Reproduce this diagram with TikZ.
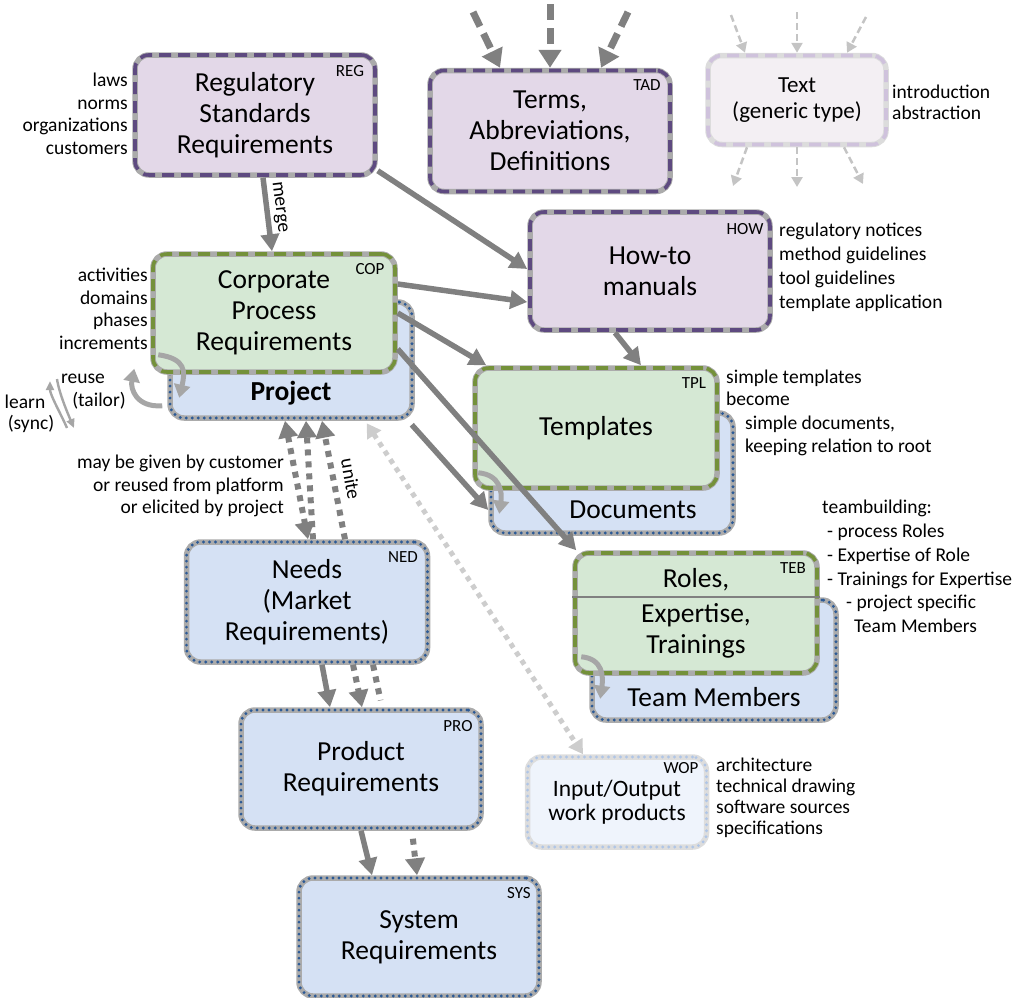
\documentclass[tikz,border=0pt]{standalone}
\usepackage{fontspec}
\setmainfont{Carlito}
\usetikzlibrary{arrows.meta,calc}

\definecolor{purpfill}{HTML}{E3D8E8}
\definecolor{purpline}{HTML}{5E4A80}
\definecolor{greenfill}{HTML}{D5E8D4}
\definecolor{greenline}{HTML}{74913A}
\definecolor{bluefill}{HTML}{D5E1F4}
\definecolor{blueline}{HTML}{2C5A96}
\definecolor{rimgray}{HTML}{ABABAB}
\definecolor{arrowgray}{HTML}{808080}
\definecolor{softgray}{HTML}{A6A6A6}
\definecolor{palegray}{HTML}{C4C4C4}
\definecolor{txtfill}{HTML}{F3EFF3}
\definecolor{txtrim}{HTML}{DCDCDC}
\definecolor{txtline}{HTML}{CFC2DC}
\definecolor{wopfill}{HTML}{EFF4FC}
\definecolor{woprim}{HTML}{DDDDDD}
\definecolor{wopline}{HTML}{AFC5E6}

\tikzset{
  box/.style={rectangle, rounded corners=14pt, draw=rimgray, line width=5.5pt,
    inner sep=0pt, align=center, font=\fontsize{27.5}{31}\selectfont},
  dashrim/.style={postaction={draw=#1, line width=3.6pt, dash pattern=on 12pt off 7pt, line cap=butt}},
  dotrim/.style={postaction={draw=#1, line width=3.2pt, dash pattern=on 0pt off 6pt, line cap=round}},
  purplebox/.style={box, fill=purpfill, dashrim=purpline},
  greenbox/.style={box, fill=greenfill, dashrim=greenline},
  bluebox/.style={box, fill=bluefill, dotrim=blueline},
  genericbox/.style={box, fill=txtfill, draw=txtrim, dashrim=txtline, font=\fontsize{23}{25.5}\selectfont},
  wopbox/.style={box, fill=wopfill, draw=woprim, dotrim=wopline, font=\fontsize{23.5}{24.5}\selectfont},
  tag/.style={font=\fontsize{17}{19}\selectfont, inner sep=0pt},
  boxtext/.style={font=\fontsize{27.5}{31}\selectfont, inner sep=0pt},
  note/.style={font=\fontsize{19.5}{22.5}\selectfont, inner sep=0pt},
  conn/.style={draw=arrowgray, line width=5.5pt, -{Triangle[length=17pt,width=18pt]}},
  bigdash/.style={draw=arrowgray, line width=7pt, dash pattern=on 16pt off 8pt,
    -{Triangle[length=18pt,width=22pt]}},
  lightdash/.style={draw=palegray, line width=2.5pt, dash pattern=on 7pt off 4pt,
    -{Triangle[length=10pt,width=11pt]}},
  dotconn/.style={draw=arrowgray, line width=6pt, dash pattern=on 6pt off 6pt,
    -{Triangle[length=17pt,width=19pt]}},
  wopconn/.style={draw=palegray!85, line width=5pt, dash pattern=on 5pt off 5pt,
    {Triangle[length=14pt,width=16pt]}-{Triangle[length=14pt,width=16pt]}},
  cyclearc/.style={draw=softgray, line width=5pt, -{Triangle[length=13pt,width=16pt]}},
  thinarc/.style={draw=softgray, line width=2.4pt, -{Triangle[length=9pt,width=8pt]}},
  divider/.style={draw=arrowgray, line width=1.6pt}
}

\begin{document}
\begin{tikzpicture}[x=1pt, y=-1pt]
\useasboundingbox (0,0) rectangle (1030,997);

% ---------- document boxes ----------
\node[purplebox, minimum width=240pt, minimum height=120pt] (reg) at (255,115)
  {Regulatory\\Standards\\Requirements};
\node[tag] (regtag) at (350,71) {REG};

\node[purplebox, minimum width=240pt, minimum height=121pt] (tad) at (550,131)
  {Terms,\\Abbreviations,\\Definitions};
\node[tag] (tadtag) at (647,85) {TAD};

\node[genericbox, minimum width=178pt, minimum height=89pt] (txt) at (797,100)
  {Text\\(generic type)};

\node[purplebox, minimum width=240pt, minimum height=118pt] (how) at (650,271)
  {How-to\\manuals};
\node[tag] (howtag) at (745,229) {HOW};

\node[bluebox, minimum width=242pt, minimum height=116pt] (prj) at (291,360) {};
\node[boxtext, font=\fontsize{27.5}{31}\selectfont\bfseries] (prjtext) at (291,393) {Project};
\node[greenbox, minimum width=242pt, minimum height=118pt] (cop) at (274,313)
  {Corporate\\Process\\Requirements};
\node[tag] (coptag) at (370,269) {COP};

\node[bluebox, minimum width=242pt, minimum height=120pt] (doc) at (612,473) {};
\node[boxtext] (doctext) at (633,510) {Documents};
\node[greenbox, minimum width=242pt, minimum height=120pt] (tpl) at (596,428) {Templates};
\node[tag] (tpltag) at (694,383) {TPL};

\node[bluebox, minimum width=244pt, minimum height=120pt] (tmb) at (714,660) {};
\node[boxtext] (tmbtext) at (714,697) {Team Members};
\node[greenbox, minimum width=242pt, minimum height=120pt] (teb) at (696,613)
  {Roles,\\[4pt]Expertise,\\Trainings};
\draw[divider] ([yshift=16pt]teb.west) -- ([yshift=16pt]teb.east);
\node[tag] (tebtag) at (793,568) {TEB};

\node[bluebox, minimum width=241pt, minimum height=120pt] (ned) at (307,602)
  {Needs\\(Market\\Requirements)};
\node[tag] (nedtag) at (403,557) {NED};

\node[bluebox, minimum width=240pt, minimum height=118pt] (pro) at (361,769)
  {Product\\Requirements};
\node[tag] (protag) at (458,726) {PRO};

\node[bluebox, minimum width=240pt, minimum height=118pt] (sys) at (419,937)
  {System\\Requirements};
\node[tag] (systag) at (519,893) {SYS};

\node[wopbox, minimum width=179pt, minimum height=90pt] (wop) at (617,802)
  {Input/Output\\work products};
\node[tag] (woptag) at (681,768) {WOP};

% ---------- side notes ----------
\node[note, align=right, anchor=east] (regnotes) at (128,114)
  {laws\\norms\\organizations\\customers};
\node[note, align=right, anchor=east] (copnotes) at (148,309)
  {activities\\domains\\phases\\increments};
\node[note, align=left, anchor=west, font=\fontsize{19.5}{24}\selectfont] (hownotes) at (779,267)
  {regulatory notices\\method guidelines\\tool guidelines\\template application};
\node[note, align=left, anchor=west, font=\fontsize{19.5}{21}\selectfont] (txtnotes) at (892,102)
  {introduction\\abstraction};
\node[note, align=left, anchor=west] (tplnotesA) at (726,388)
  {simple templates\\become};
\node[note, align=left, anchor=west] (tplnotesB) at (745,436)
  {simple documents,\\keeping relation to root};
\node[note, align=left, anchor=north west, font=\fontsize{19.5}{23.8}\selectfont] (tebnotes) at (822,500)
  {teambuilding:\\
   \hspace*{5pt}- process Roles\\
   \hspace*{5pt}- Expertise of Role\\
   \hspace*{5pt}- Trainings for Expertise\\
   \hspace*{24pt}- project specific\\
   \hspace*{32pt}Team Members};
\node[note, align=left, anchor=west, font=\fontsize{19.5}{21}\selectfont] (wopnotes) at (716,798)
  {architecture\\technical drawing\\software sources\\specifications};
\node[note, align=right, anchor=east] (givennote) at (284,486)
  {may be given by customer\\or reused from platform\\or elicited by project};
\node[note] (reusetxt) at (83,379) {reuse};
\node[note] (tailortxt) at (99,401) {(tailor)};
\node[note] (learntxt) at (25,402) {learn};
\node[note] (synctxt) at (31,424) {(sync)};

% ---------- free ends ----------
\coordinate (tadsrcA) at (473,12);
\coordinate (tadsrcB) at (550,4);
\coordinate (tadsrcC) at (628,12);
\coordinate (txtsrcA) at (731,15);
\coordinate (txtsrcB) at (797,12);
\coordinate (txtsrcC) at (866,17);
\coordinate (txtdstA) at (733,186);
\coordinate (txtdstB) at (797,187);
\coordinate (txtdstC) at (863,184);
\coordinate (learnA) at (67,428);
\coordinate (learnB) at (50,381);
\coordinate (reuseA) at (57,379);
\coordinate (reuseB) at (74,428);

% ---------- connectors ----------
\draw[bigdash] (tadsrcA) -- ([xshift=-50pt]tad.north);
\draw[bigdash] (tadsrcB) -- (tad.north);
\draw[bigdash] (tadsrcC) -- ([xshift=51pt]tad.north);

\draw[lightdash] (txtsrcA) -- ([xshift=-52pt]txt.north);
\draw[lightdash] (txtsrcB) -- (txt.north);
\draw[lightdash] (txtsrcC) -- ([xshift=50pt]txt.north);
\draw[lightdash] ([xshift=-50pt]txt.south) -- (txtdstA);
\draw[lightdash] (txt.south) -- (txtdstB);
\draw[lightdash] ([xshift=47pt]txt.south) -- (txtdstC);

\draw[conn] ([xshift=8pt]reg.south) -- node[sloped, above, pos=0.42, note, inner sep=3pt] (mergelbl) {merge}
  ([xshift=-2pt]cop.north);
\draw[conn] ([yshift=7pt]reg.south east) -- ([yshift=2pt]how.west);
\draw[conn] ([yshift=29pt]cop.east) -- ([yshift=-31pt]how.west);
\draw[conn] ([xshift=-35pt]how.south) -- ([xshift=45pt]tpl.north);
\draw[conn] (cop.east) -- ([xshift=14pt]tpl.north west);
\draw[conn] ([yshift=-36pt]cop.east) -- ([xshift=4pt]teb.north west);
\draw[conn] ([xshift=-3pt,yshift=-4pt]prj.south east) -- ([yshift=-37pt]doc.west);

\draw[dotconn, {Triangle[length=17pt,width=19pt]}-{Triangle[length=17pt,width=19pt]}]
  ([xshift=-6pt]prj.south) -- ([xshift=1pt]ned.north);
\draw[dotconn] ([xshift=6pt]ned.north) -- ([xshift=15pt]prj.south);
\draw[dotconn] ([xshift=38pt]ned.north) -- ([xshift=31pt]prj.south);
\node[note, rotate=-80] (unitelbl) at (351,479) {unite};
\draw[wopconn, shorten <=3pt] ([xshift=74pt]prj.south) -- ([xshift=-34pt]wop.north);

\draw[conn] ([xshift=15pt]ned.south) -- ([xshift=-31pt]pro.north);
\draw[dotconn] ([xshift=46pt]ned.south) -- ([xshift=1pt]pro.north);
\draw[dotconn, -, shorten >=7pt] ([xshift=66pt]ned.south) -- ([xshift=21pt]pro.north);

\draw[conn] (pro.south) -- ([xshift=-47pt]sys.north);
\draw[dotconn, shorten <=8pt] ([xshift=51pt]pro.south) -- ([xshift=-2pt]sys.north);

% ---------- tailoring arcs ----------
\draw[cyclearc] ([xshift=8pt,yshift=20pt]cop.south west) .. controls +(28,4) and +(6,-26) ..
  ([xshift=12pt,yshift=23pt]prj.south west);
\draw[cyclearc] ([xshift=-5pt,yshift=15pt]prj.south west) .. controls +(-26,2) and +(-4,20) ..
  ([xshift=-16pt,yshift=6pt]cop.south west);
\draw[cyclearc] ([xshift=6pt,yshift=18pt]tpl.south west) .. controls +(22,2) and +(3,-22) ..
  ([xshift=11pt,yshift=22pt]doc.south west);
\draw[cyclearc] ([xshift=9pt,yshift=19pt]teb.south west) .. controls +(22,2) and +(3,-22) ..
  ([xshift=11pt,yshift=24pt]tmb.south west);

\draw[thinarc] (learnA) .. controls +(-6,-14) and +(0,14) .. (learnB);
\draw[thinarc] (reuseA) .. controls +(2,14) and +(-6,-14) .. (reuseB);
\end{tikzpicture}
\end{document}
